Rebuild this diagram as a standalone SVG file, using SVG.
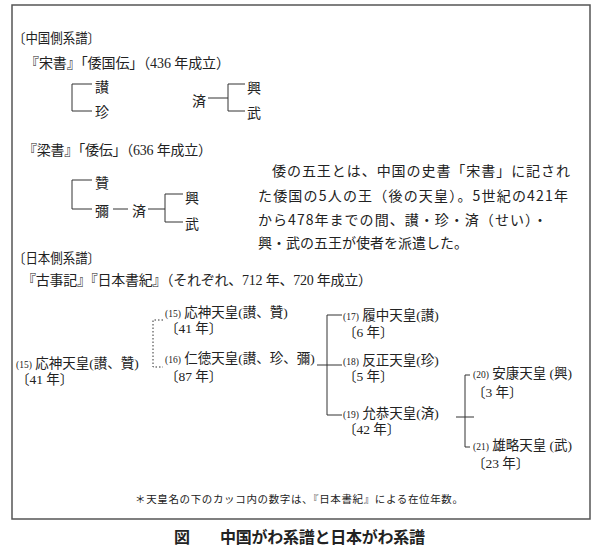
<svg xmlns="http://www.w3.org/2000/svg" width="600" height="550" viewBox="0 0 600 550">
<style>
.t{font-family:"Liberation Serif","Noto Sans CJK JP",serif;fill:#222}
.h{font-size:13.5px}
.g{font-size:14px}
.c{font-size:14px}
.n{font-size:13.5px}
.s{font-size:9.5px}
.p{font-family:"Noto Sans CJK JP",sans-serif;font-size:14px;fill:#222}
.ln{stroke:#333;stroke-width:1;fill:none}
.dot{stroke:#333;stroke-width:1;fill:none;stroke-dasharray:1.5 2}
</style>
<rect x="0" y="0" width="600" height="550" fill="#fff"/>
<rect id="frame" x="12" y="5" width="578" height="514" fill="none" stroke="#555" stroke-width="1.5"/>

<g id="headings">
<text class="t h" x="13" y="43" textLength="87" lengthAdjust="spacingAndGlyphs">〔中国側系譜〕</text>
<text class="t g" x="25" y="68" textLength="205" lengthAdjust="spacing">『宋書』「倭国伝」（436 年成立）</text>
<text class="t g" x="23" y="155" textLength="189" lengthAdjust="spacing">『梁書』「倭伝」（636 年成立）</text>
<text class="t h" x="13" y="263" textLength="87" lengthAdjust="spacingAndGlyphs">〔日本側系譜〕</text>
<text class="t g" x="22" y="285" textLength="350" lengthAdjust="spacing">『古事記』『日本書紀』（それぞれ、712 年、720 年成立）</text>
</g>

<g id="connectors">
<path class="ln" d="M92 84H72V111H92"/>
<path class="ln" d="M208 98H228M245 84H228V111H245"/>
<path class="ln" d="M92 180H72V209H92M113 209H128M148 209H165M183 194H165V222H183"/>
<path class="dot" d="M163 320H153V367H163"/>
<path class="ln" d="M342 315H327V415H342M317 365H342"/>
<path class="ln" d="M470 375H465V447H470M456 417H474"/>
</g>

<g id="song">
<text class="t c" x="95" y="92">讃</text>
<text class="t c" x="95" y="117">珍</text>
<text class="t c" x="192" y="106">済</text>
<text class="t c" x="247" y="93">興</text>
<text class="t c" x="247" y="118">武</text>
</g>
<g id="liang">
<text class="t c" x="95" y="188">贊</text>
<text class="t c" x="95" y="216">彌</text>
<text class="t c" x="132" y="216">済</text>
<text class="t c" x="185" y="203">興</text>
<text class="t c" x="185" y="229">武</text>
</g>

<g id="note">
<text class="p" x="272" y="176" textLength="298" lengthAdjust="spacing">倭の五王とは、中国の史書「宋書」に記され</text>
<text class="p" x="258" y="201" textLength="310" lengthAdjust="spacing">た倭国の5人の王（後の天皇）。5世紀の421年</text>
<text class="p" x="258" y="225" textLength="289" lengthAdjust="spacing">から478年までの間、讃・珍・済（せい）・</text>
<text class="p" x="258" y="248">興・武の五王が使者を派遣した。</text>
</g>

<g id="ojin-left">
<text class="t n" x="16" y="368"><tspan class="s">(15)</tspan> 応神天皇(讃、贊)</text>
<text class="t n" x="16" y="384">〔41 年〕</text>
</g>
<g id="ojin">
<text class="t n" x="165" y="317"><tspan class="s">(15)</tspan> 応神天皇(讃、贊)</text>
<text class="t n" x="165" y="333">〔41 年〕</text>
</g>
<g id="nintoku">
<text class="t n" x="165" y="363"><tspan class="s">(16)</tspan> 仁徳天皇(讃、珍、彌)</text>
<text class="t n" x="165" y="381">〔87 年〕</text>
</g>
<g id="richu">
<text class="t n" x="343" y="320"><tspan class="s">(17)</tspan> 履中天皇(讃)</text>
<text class="t n" x="343" y="337">〔6 年〕</text>
</g>
<g id="hanzei">
<text class="t n" x="343" y="365"><tspan class="s">(18)</tspan> 反正天皇(珍)</text>
<text class="t n" x="343" y="381">〔5 年〕</text>
</g>
<g id="ingyo">
<text class="t n" x="343" y="418"><tspan class="s">(19)</tspan> 允恭天皇(済)</text>
<text class="t n" x="343" y="434">〔42 年〕</text>
</g>
<g id="anko">
<text class="t n" x="473" y="378"><tspan class="s">(20)</tspan> 安康天皇 (興)</text>
<text class="t n" x="472" y="397">〔3 年〕</text>
</g>
<g id="yuryaku">
<text class="t n" x="473" y="450"><tspan class="s">(21)</tspan> 雄略天皇 (武)</text>
<text class="t n" x="472" y="468">〔23 年〕</text>
</g>

<text class="t" x="135" y="503" font-size="10.5" textLength="328" lengthAdjust="spacing">＊天皇名の下のカッコ内の数字は、『日本書紀』による在位年数。</text>
<g id="caption" font-family="'Noto Sans CJK JP',sans-serif" font-size="16" font-weight="bold" fill="#222">
<text x="174" y="543">図</text>
<text x="220" y="543" textLength="205" lengthAdjust="spacing">中国がわ系譜と日本がわ系譜</text>
</g>
</svg>
